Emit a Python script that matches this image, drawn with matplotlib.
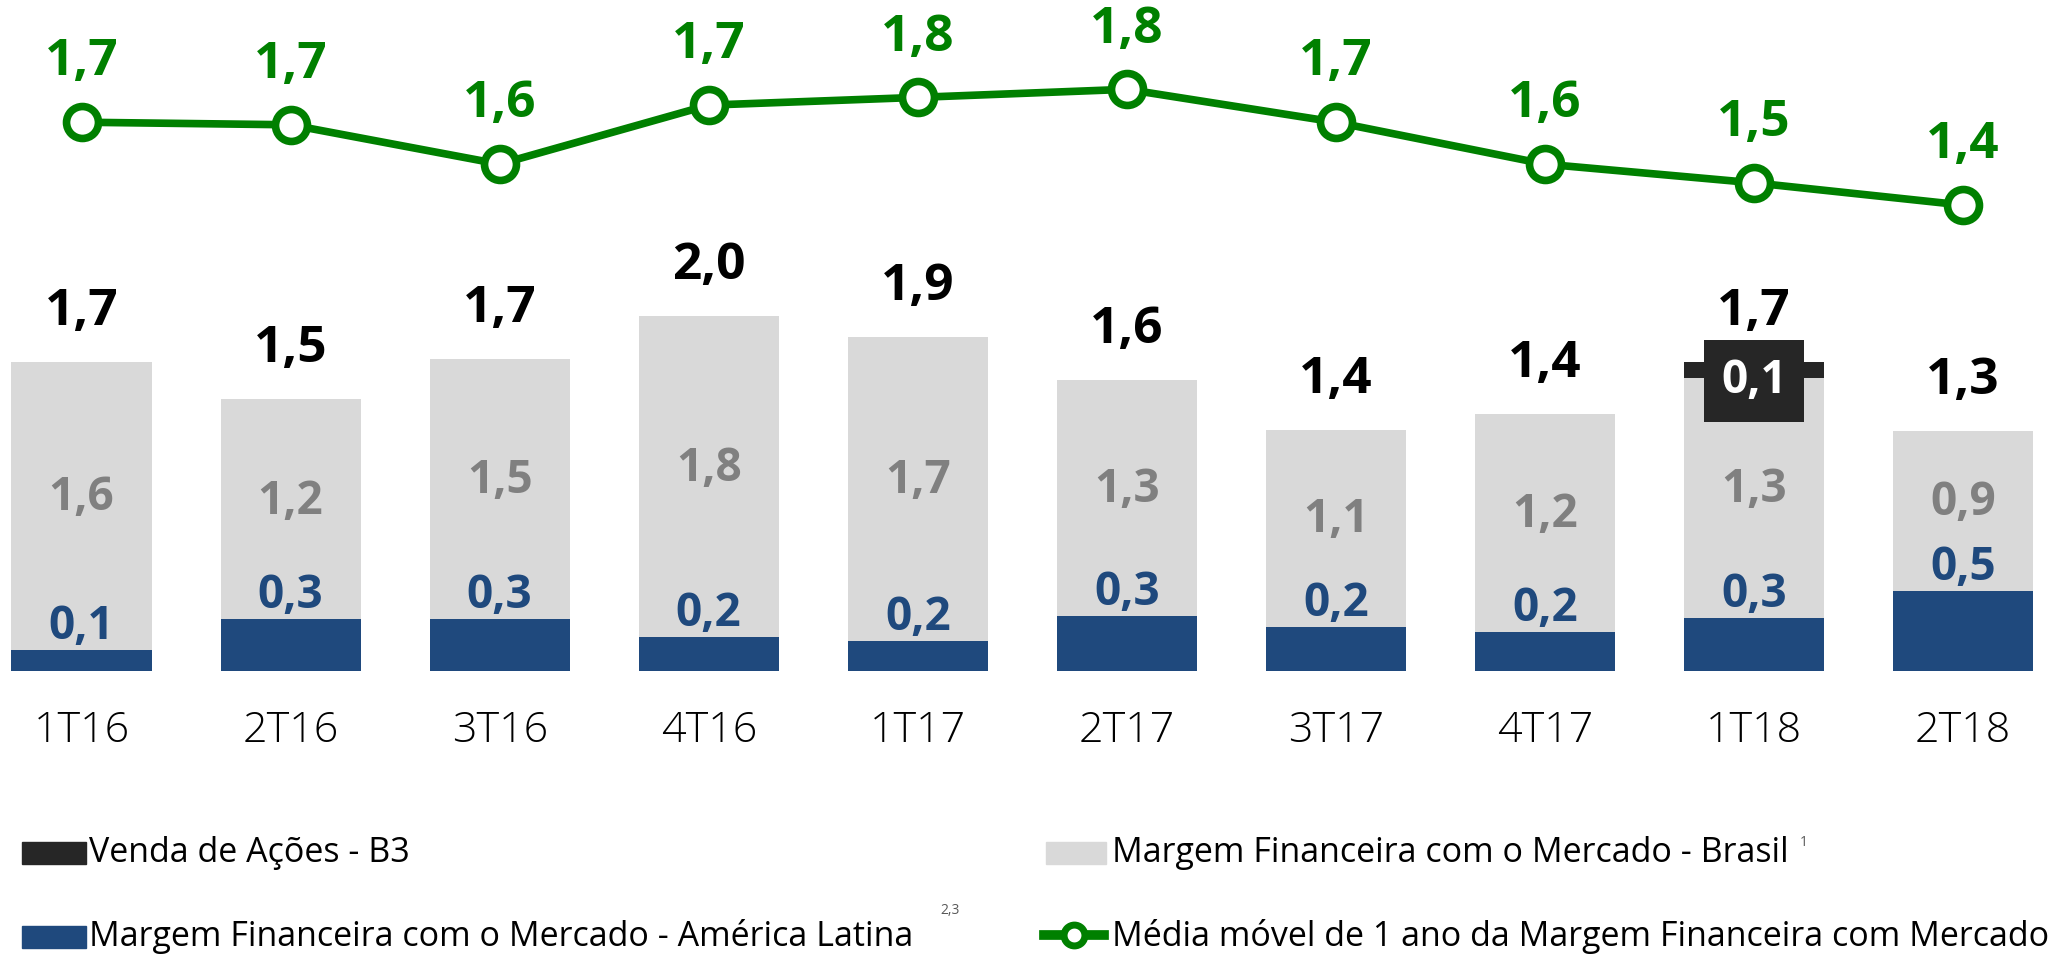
import matplotlib.pyplot as plt
from matplotlib.patches import Rectangle
from matplotlib.lines import Line2D

# dados
categorias = ["1T16", "2T16", "3T16", "4T16", "1T17", "2T17", "3T17", "4T17", "1T18", "2T18"]
latam = [0.12, 0.29, 0.29, 0.19, 0.17, 0.31, 0.25, 0.22, 0.30, 0.45]
brasil = [1.62, 1.24, 1.47, 1.81, 1.71, 1.33, 1.11, 1.23, 1.35, 0.90]
venda_b3 = [0, 0, 0, 0, 0, 0, 0, 0, 0.09, 0]
media_movel = [1.685, 1.677, 1.555, 1.738, 1.762, 1.787, 1.685, 1.555, 1.497, 1.428]

rotulo_total = ["1,7", "1,5", "1,7", "2,0", "1,9", "1,6", "1,4", "1,4", "1,7", "1,3"]
rotulo_brasil = ["1,6", "1,2", "1,5", "1,8", "1,7", "1,3", "1,1", "1,2", "1,3", "0,9"]
rotulo_latam = ["0,1", "0,3", "0,3", "0,2", "0,2", "0,3", "0,2", "0,2", "0,3", "0,5"]
rotulo_media = ["1,7", "1,7", "1,6", "1,7", "1,8", "1,8", "1,7", "1,6", "1,5", "1,4"]

AZUL = "#1F497D"
CINZA = "#D9D9D9"
PRETO = "#262626"
VERDE = "#008000"
FONTE = ["Open Sans", "DejaVu Sans"]

fig = plt.figure(figsize=(20.63, 9.58), dpi=100)
ax = fig.add_axes([0, 0, 1, 1])
x = list(range(len(categorias)))

# barras empilhadas
ax.bar(x, latam, width=0.67, color=AZUL)
ax.bar(x, brasil, width=0.67, bottom=latam, color=CINZA)
base3 = [a + b for a, b in zip(latam, brasil)]
ax.bar(x, venda_b3, width=0.67, bottom=base3, color=PRETO)
totais = [a + b for a, b in zip(base3, venda_b3)]

for i in x:
    # total
    ax.annotate(rotulo_total[i], (i, totais[i]), xytext=(0, 36), textcoords="offset points",
                ha="center", va="center", fontsize=37, fontweight="bold", color="black", family=FONTE)
    # brasil
    ax.annotate(rotulo_brasil[i], (i, latam[i] + brasil[i] / 2), xytext=(0, 6), textcoords="offset points",
                ha="center", va="center", fontsize=33, fontweight="bold", color="#808080", family=FONTE)
    # america latina
    ax.annotate(rotulo_latam[i], (i, latam[i]), xytext=(0, 0), textcoords="offset points",
                ha="center", va="bottom", fontsize=33, fontweight="bold", color=AZUL, family=FONTE)
    # categoria
    ax.annotate(categorias[i], (i, 0), xytext=(0, -43), textcoords="offset points",
                ha="center", va="center", fontsize=31, fontweight="light", color="black", family=FONTE)
    # venda de acoes
    if venda_b3[i] > 0:
        ax.annotate("0,1", (i, base3[i]), xytext=(0, -2), textcoords="offset points",
                    ha="center", va="center", fontsize=33, fontweight="bold", color="white", family=FONTE,
                    bbox=dict(boxstyle="square,pad=0.38", facecolor=PRETO, edgecolor="none"))

ax.set_xlim(-0.39, 9.478)
ax.set_ylim(-1.617, 3.780)
ax.axis("off")

# linha da media movel
ax2 = fig.add_axes([0, 0, 1, 1])
ax2.patch.set_alpha(0)
ax2.plot(x, media_movel, color=VERDE, lw=5.5, marker="o", ms=23, mfc="white", mec=VERDE, mew=5.5)
for i in x:
    ax2.annotate(rotulo_media[i], (i, media_movel[i]), xytext=(0, 43), textcoords="offset points",
                 ha="center", va="center", fontsize=37, fontweight="bold", color=VERDE, family=FONTE)
ax2.set_xlim(-0.39, 9.478)
ax2.set_ylim(-0.907, 2.064)
ax2.axis("off")

# legenda
W, H = 2063, 958
def fx(px):
    return px / W
def fy(py):
    return 1 - py / H

fig.add_artist(Rectangle((fx(22), fy(864)), fx(64), 22 / H, transform=fig.transFigure, color=PRETO))
fig.text(fx(89), fy(853), "Venda de Ações - B3", fontsize=24.5, va="center", ha="left", family=FONTE)
fig.add_artist(Rectangle((fx(22), fy(948)), fx(64), 22 / H, transform=fig.transFigure, color=AZUL))
fig.text(fx(89), fy(937), "Margem Financeira com o Mercado - América Latina", fontsize=24.5,
         va="center", ha="left", family=FONTE)
fig.text(fx(940), fy(910), "2,3", fontsize=10, va="center", ha="left", color="#595959", family=FONTE)

fig.add_artist(Rectangle((fx(1046), fy(864)), fx(60), 22 / H, transform=fig.transFigure, color=CINZA))
fig.text(fx(1112), fy(853), "Margem Financeira com o Mercado - Brasil", fontsize=24.5,
         va="center", ha="left", family=FONTE)
fig.text(fx(1800), fy(842), "1", fontsize=10, va="center", ha="left", color="#595959", family=FONTE)

fig.add_artist(Line2D([fx(1044), fx(1074), fx(1104)], [fy(935)] * 3, transform=fig.transFigure,
                      color=VERDE, lw=7, marker="o", ms=15, mfc="white", mec=VERDE, mew=5,
                      markevery=[1]))
fig.text(fx(1112), fy(937), "Média móvel de 1 ano da Margem Financeira com Mercado", fontsize=24.5,
         va="center", ha="left", family=FONTE)

fig.savefig("out.png", dpi=100)
